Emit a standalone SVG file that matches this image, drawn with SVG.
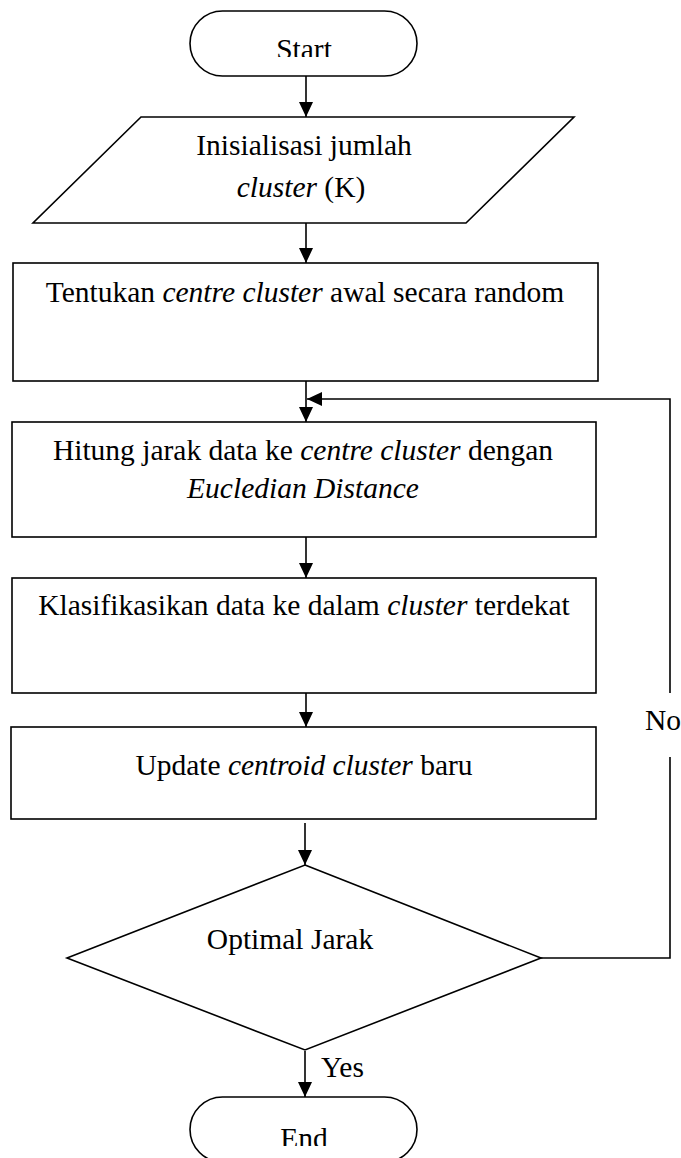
<svg xmlns="http://www.w3.org/2000/svg" width="681" height="1158" viewBox="0 0 681 1158">
<style>
.s{fill:#fff;stroke:#000;stroke-width:1.6}
.t{font-family:"Liberation Serif","Times New Roman",serif;font-size:29.5px;fill:#000;text-anchor:middle}
.i{font-style:italic}
.c{fill:none;stroke:#000;stroke-width:1.6}
</style>
<defs>
<marker id="ah" markerUnits="userSpaceOnUse" markerWidth="15" markerHeight="14" refX="15" refY="7" orient="auto">
<path d="M0,0 L15,7 L0,14 z" fill="#000"/>
</marker>
<clipPath id="cs"><rect x="180" y="0" width="250" height="57"/></clipPath>
<clipPath id="ce"><rect x="180" y="1090" width="250" height="56"/></clipPath>
</defs>
<g id="start">
<rect class="s" x="190" y="11" width="227" height="65" rx="32.5" ry="32.5"/>
<text class="t" x="304" y="58.5" clip-path="url(#cs)">Start</text>
</g>
<g id="init">
<polygon class="s" points="141,117 574,117 466,223 33,223"/>
<text class="t" x="304" y="155">Inisialisasi jumlah</text>
<text class="t" x="301" y="197"><tspan class="i">cluster</tspan> (K)</text>
</g>
<g id="tentukan">
<rect class="s" x="13" y="263" width="585" height="118"/>
<text class="t" x="305" y="302">Tentukan <tspan class="i">centre cluster</tspan> awal secara random</text>
</g>
<g id="hitung">
<rect class="s" x="12" y="422" width="584" height="115"/>
<text class="t" x="303" y="460">Hitung jarak data ke <tspan class="i">centre cluster</tspan> dengan</text>
<text class="t i" x="303" y="498">Eucledian Distance</text>
</g>
<g id="klasifikasi">
<rect class="s" x="12" y="578" width="584" height="115"/>
<text class="t" x="304" y="615">Klasifikasikan data ke dalam <tspan class="i">cluster</tspan> terdekat</text>
</g>
<g id="update">
<rect class="s" x="11" y="727" width="585" height="92"/>
<text class="t" x="304" y="775">Update <tspan class="i">centroid cluster</tspan> baru</text>
</g>
<g id="optimal">
<polygon class="s" points="305,865 541,958 305,1050 67,958"/>
<text class="t" x="290" y="949">Optimal Jarak</text>
</g>
<g id="end">
<rect class="s" x="190" y="1097" width="227" height="65" rx="32.5" ry="32.5"/>
<text class="t" x="304" y="1148" clip-path="url(#ce)">End</text>
</g>
<g id="connectors">
<line class="c" x1="306" y1="76" x2="306" y2="117" marker-end="url(#ah)"/>
<line class="c" x1="306" y1="223" x2="306" y2="263" marker-end="url(#ah)"/>
<line class="c" x1="306" y1="381" x2="306" y2="422" marker-end="url(#ah)"/>
<line class="c" x1="306" y1="537" x2="306" y2="578" marker-end="url(#ah)"/>
<line class="c" x1="306" y1="693" x2="306" y2="727" marker-end="url(#ah)"/>
<line class="c" x1="305" y1="823" x2="305" y2="865" marker-end="url(#ah)"/>
<line class="c" x1="305" y1="1051" x2="305" y2="1097" marker-end="url(#ah)"/>
<path class="c" d="M541,958 H670 V757 M670,693 V399 H307" marker-end="url(#ah)"/>
<text class="t" x="645" y="730" style="text-anchor:start">No</text>
<text class="t" x="321" y="1077" style="text-anchor:start">Yes</text>
</g>
</svg>
